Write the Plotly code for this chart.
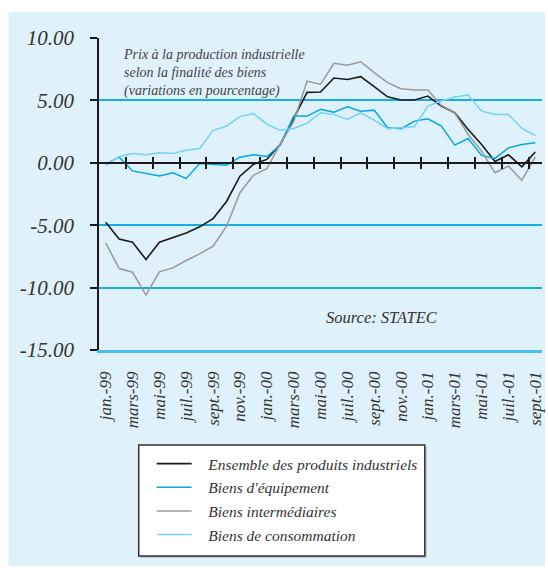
import plotly.graph_objects as go

months = list(range(33))
tick_pos = list(range(0, 33, 2))
tick_labels = ["jan.-99", "mars-99", "mai-99", "juil.-99", "sept.-99", "nov.-99",
               "jan.-00", "mars-00", "mai-00", "juil.-00", "sept.-00", "nov.-00",
               "jan.-01", "mars-01", "mai-01", "juil.-01", "sept.-01"]
minor_ticks = [i + 1.5 for i in range(0, 31, 2)]
y_ticks = [-15, -10, -5, 0, 5, 10]
y_labels = ["-15.00", "-10.00", "-5.00", "0.00", "5.00", "10.00"]

ensemble = [-4.76, -6.1, -6.36, -7.75, -6.36, -6.0, -5.62, -5.13, -4.47, -3.1, -1.07,
            -0.13, 0.27, 1.47, 3.5, 5.64, 5.67, 6.79, 6.68, 6.90, 6.10, 5.29, 5.03,
            5.03, 5.35, 4.55, 4.01, 2.67, 1.47, 0.11, 0.64, -0.32, 0.86]
equipement = [-0.1, 0.45, -0.65, -0.85, -1.05, -0.8, -1.25, -0.05, -0.1, -0.2, 0.45,
              0.65, 0.5, 1.4, 3.75, 3.74, 4.28, 4.06, 4.49, 4.14, 4.22, 2.81, 2.73,
              3.34, 3.53, 2.94, 1.42, 1.95, 0.59, 0.35, 1.20, 1.47, 1.60]
intermediaires = [-6.42, -8.47, -8.77, -10.6, -8.74, -8.42, -7.83, -7.3, -6.68, -5.08,
                  -2.4, -1.0, -0.48, 1.5, 3.3, 6.55, 6.28, 7.97, 7.81, 8.10, 7.22, 6.42,
                  5.94, 5.83, 5.83, 4.60, 4.01, 2.27, 0.94, -0.80, -0.27, -1.39, 0.48]
consommation = [-0.2, 0.5, 0.75, 0.65, 0.8, 0.75, 1.0, 1.15, 2.6, 2.95, 3.7, 3.95, 3.1,
                2.6, 2.75, 3.16, 4.01, 3.88, 3.48, 4.01, 3.42, 2.73, 2.81, 2.89, 4.55,
                4.95, 5.27, 5.43, 4.14, 3.88, 3.88, 2.75, 2.19]

names = ["Ensemble des produits industriels", "Biens d'équipement",
         "Biens intermédiaires", "Biens de consommation"]
series = [ensemble, equipement, intermediaires, consommation]
colors = ["#1a1a1a", "#00a9e6", "#999999", "#72d2f6"]
widths = [1.6, 1.5, 1.5, 1.5]

SERIF = "Liberation Serif"
BG = "#dff1fa"
PAD = "&nbsp;&nbsp;&nbsp;"

fig = go.Figure()
for n, s, c, w in zip(names, series, colors, widths):
    fig.add_trace(go.Scatter(x=months, y=s, mode="lines", name=PAD + n,
                             line=dict(color=c, width=w), legendgroup=n))

W, H = 548, 570
L, R, T, B = 99, 3, 38, 220
pw, ph = W - L - R, H - T - B


def px2x(px):
    return (px - L) / pw


def py2y(py):
    return 1 - (py - T) / ph


fig.update_layout(
    width=W, height=H,
    margin=dict(l=L, r=R, t=T, b=B),
    paper_bgcolor="white",
    plot_bgcolor="rgba(0,0,0,0)",
    showlegend=True,
    legend=dict(
        x=px2x(152), y=py2y(447), xanchor="left", yanchor="top",
        bgcolor="rgba(0,0,0,0)", borderwidth=0,
        font=dict(family=SERIF, size=15.5, color="#333333", style="italic"),
        itemwidth=35, tracegroupgap=0.5,
    ),
    xaxis=dict(
        range=[-0.5, 32.5], tickmode="array", tickvals=tick_pos, ticktext=tick_labels,
        tickangle=-90, ticks="", ticklabelstandoff=12,
        tickfont=dict(family=SERIF, size=17, color="#333333", style="italic"),
        showgrid=False, zeroline=False, showline=True, linecolor="#45bfee", linewidth=2.5,
    ),
    xaxis2=dict(
        range=[-0.5, 32.5], overlaying="x", anchor="free", position=0.6,
        tickmode="array", tickvals=minor_ticks, ticks="inside", ticklen=5,
        tickcolor="#1a1a1a", tickwidth=1.5, showticklabels=False, showgrid=False,
        zeroline=False, showline=True, linecolor="#1a1a1a", linewidth=1.5,
    ),
    xaxis3=dict(
        range=[-0.5, 32.5], overlaying="x", anchor="free", position=0.6,
        tickmode="array", tickvals=minor_ticks, ticks="outside", ticklen=5,
        tickcolor="#1a1a1a", tickwidth=1.5, showticklabels=False, showgrid=False,
        zeroline=False, showline=False,
    ),
    yaxis=dict(
        range=[-15, 10], tickmode="array", tickvals=y_ticks, ticktext=y_labels,
        ticks="outside", ticklen=7, tickcolor="#1a1a1a", tickwidth=1.5,
        tickfont=dict(family=SERIF, size=21, color="#333333", style="italic"),
        showgrid=True, gridcolor="#16ade6", gridwidth=1.5, zeroline=False,
        showline=True, linecolor="#1a1a1a", linewidth=1.5, ticklabelstandoff=12,
    ),
    shapes=[
        dict(type="rect", xref="paper", yref="paper", layer="below",
             x0=px2x(8), x1=px2x(548), y0=py2y(566), y1=py2y(12),
             fillcolor=BG, line=dict(width=0)),
        dict(type="rect", xref="paper", yref="paper", layer="below",
             x0=px2x(141), x1=px2x(429), y0=py2y(558), y1=py2y(447),
             fillcolor="#b9c6cc", line=dict(width=0)),
        dict(type="rect", xref="paper", yref="paper", layer="below",
             x0=px2x(139), x1=px2x(427), y0=py2y(556), y1=py2y(445),
             fillcolor="white", line=dict(color="#333333", width=1.5)),
    ],
    annotations=[
        dict(xref="paper", yref="paper", x=px2x(121), y=py2y(45), xanchor="left",
             yanchor="top", align="left", showarrow=False,
             text="Prix à la production industrielle<br>selon la finalité des biens<br>(variations en pourcentage)",
             font=dict(family=SERIF, size=14, color="#444444", style="italic")),
        dict(xref="paper", yref="paper", x=px2x(326), y=py2y(317), xanchor="left",
             yanchor="middle", showarrow=False, text="Source: STATEC",
             font=dict(family=SERIF, size=16.5, color="#333333", style="italic")),
    ],
)

# invisible traces that activate the overlay axes carrying the zero-line ticks
fig.add_trace(go.Scatter(x=[-0.5], y=[0], xaxis="x2", mode="none", showlegend=False, hoverinfo="skip"))
fig.add_trace(go.Scatter(x=[-0.5], y=[0], xaxis="x3", mode="none", showlegend=False, hoverinfo="skip"))

fig.write_html("out.html", config={"displayModeBar": False},
               post_script="document.body.style.margin='0';document.body.style.padding='0';")
